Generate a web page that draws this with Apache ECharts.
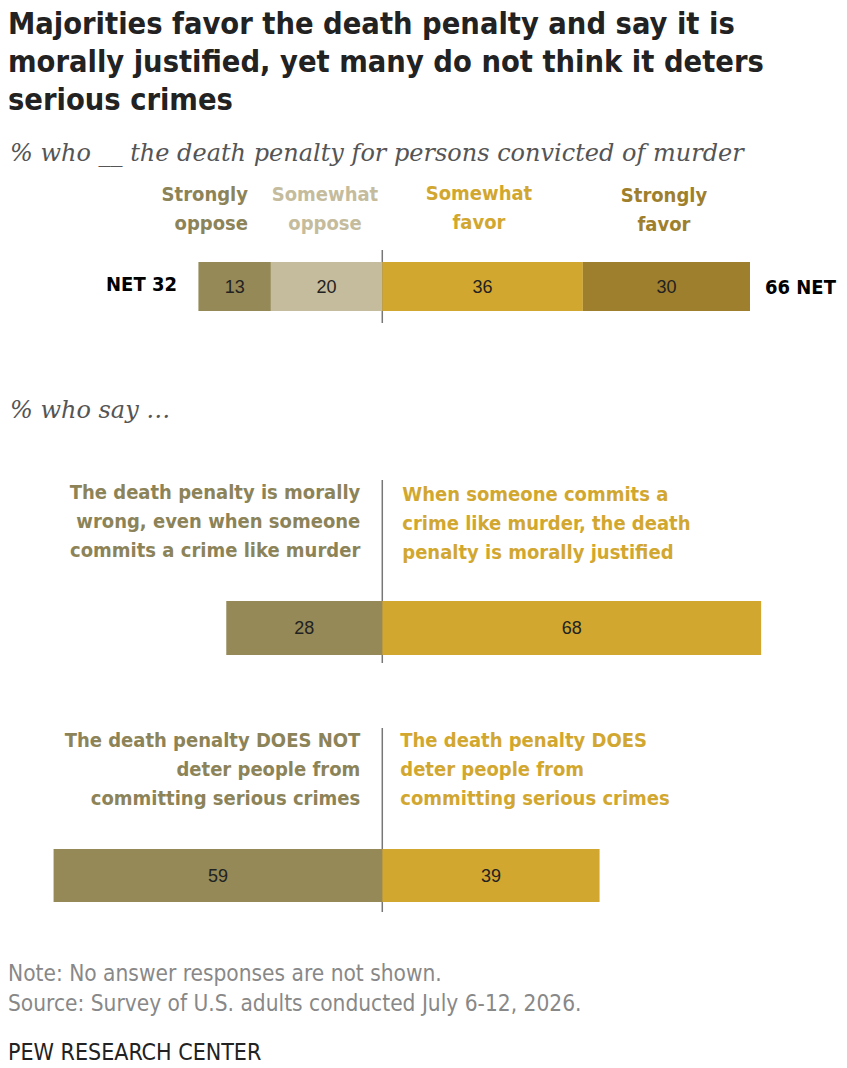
<!DOCTYPE html>
<html>
<head>
<meta charset="utf-8">
<script src="https://cdn.jsdelivr.net/npm/echarts@6/dist/echarts.min.js"></script>
<style>
  html, body { margin: 0; padding: 0; background: #fff; }
  #chart { width: 847px; height: 1068px; }
</style>
</head>
<body>
<div id="chart"></div>
<script>
// --- data ---
var scaleCats = ['Strongly oppose', 'Somewhat oppose', 'Somewhat favor', 'Strongly favor'];
var scaleValues = [13, 20, 36, 30];
var netOppose = 32;
var netFavor = 66;

var moralLabels = ['The death penalty is morally\nwrong, even when someone\ncommits a crime like murder',
                   'When someone commits a\ncrime like murder, the death\npenalty is morally justified'];
var moralValues = [28, 68];

var deterLabels = ['The death penalty DOES NOT\ndeter people from\ncommitting serious crimes',
                   'The death penalty DOES\ndeter people from\ncommitting serious crimes'];
var deterValues = [59, 39];

var cOpposeStrong = '#948957';
var cOpposeSome = '#c4bc9c';
var cFavorSome = '#d2a730';
var cFavorStrong = '#9e7f2e';

var narrow = '"Liberation Sans Narrow", "DejaVu Sans Condensed", sans-serif';
var plain = '"Liberation Sans", Arial, sans-serif';
var serif = '"DejaVu Serif", "Liberation Serif", serif';

var chart = echarts.init(document.getElementById('chart'), null, { renderer: 'svg' });

var barLabel = {
    show: true,
    position: 'inside',
    color: '#222',
    fontFamily: plain,
    fontSize: 18,
    formatter: function (p) { return Math.abs(p.value); }
};

function grid(top, h) {
    return { left: 48, width: 780, top: top, height: h, containLabel: false };
}
function xAx(i) {
    return { gridIndex: i, type: 'value', min: -60, max: 80, show: false };
}
function yAx(i) {
    return { gridIndex: i, type: 'category', data: ['a'], show: false };
}
function bar(i, name, val, color, stack) {
    return {
        type: 'bar', name: name, xAxisIndex: i, yAxisIndex: i, stack: stack,
        barWidth: '100%', data: [val], itemStyle: { color: color },
        label: barLabel, silent: true, animation: false
    };
}

var option = {
    animation: false,
    title: {
        text: 'Majorities favor the death penalty and say it is\nmorally justified, yet many do not think it deters\nserious crimes',
        left: 8, top: 4, padding: 0,
        textStyle: { fontFamily: narrow, fontWeight: 'bold', fontSize: 30.5, lineHeight: 38, color: '#222' }
    },
    grid: [grid(262, 49), grid(601, 54), grid(849, 53)],
    xAxis: [xAx(0), xAx(1), xAx(2)],
    yAxis: [yAx(0), yAx(1), yAx(2)],
    series: [
        bar(0, scaleCats[1], -scaleValues[1], cOpposeSome, 's0'),
        bar(0, scaleCats[0], -scaleValues[0], cOpposeStrong, 's0'),
        bar(0, scaleCats[2], scaleValues[2], cFavorSome, 's0'),
        bar(0, scaleCats[3], scaleValues[3], cFavorStrong, 's0'),
        bar(1, 'wrong', -moralValues[0], cOpposeStrong, 's1'),
        bar(1, 'justified', moralValues[1], cFavorSome, 's1'),
        bar(2, 'not deter', -deterValues[0], cOpposeStrong, 's2'),
        bar(2, 'deter', deterValues[1], cFavorSome, 's2')
    ]
};
chart.setOption(option);

// centre lines and text placed relative to the zero of the value axis
var x0 = chart.convertToPixel({ xAxisIndex: 0 }, 0);

function txt(x, y, s, o) {
    return {
        type: 'text', x: x, y: y, silent: true,
        style: Object.assign({ text: s, fontFamily: narrow, fontSize: 19, fontWeight: 'bold',
            textAlign: 'left', textVerticalAlign: 'middle', fill: '#222' }, o || {})
    };
}
function vline(y1, y2) {
    return { type: 'line', silent: true, shape: { x1: x0, y1: y1, x2: x0, y2: y2 },
        style: { stroke: '#777', lineWidth: 1.5 } };
}

var hdr = { fontSize: 20, lineHeight: 29, textVerticalAlign: 'top' };
var side = { fontSize: 20, lineHeight: 29, textVerticalAlign: 'top' };
var ital = { fontFamily: serif, fontStyle: 'italic', fontWeight: 'normal', fontSize: 24, fill: '#555' };

chart.setOption({
    graphic: [
        txt(10, 153, '% who __ the death penalty for persons convicted of murder', ital),
        txt(248, 179, 'Strongly\noppose', Object.assign({ textAlign: 'right', fill: '#8c8358' }, hdr)),
        txt(325, 179, 'Somewhat\noppose', Object.assign({ textAlign: 'center', fill: cOpposeSome }, hdr)),
        txt(479, 178, 'Somewhat\nfavor', Object.assign({ textAlign: 'center', fill: cFavorSome }, hdr)),
        txt(664, 180, 'Strongly\nfavor', Object.assign({ textAlign: 'center', fill: cFavorStrong }, hdr)),
        txt(177, 284, 'NET ' + netOppose, { textAlign: 'right', fill: '#000', fontSize: 20 }),
        txt(765, 287, netFavor + ' NET', { fill: '#000', fontSize: 20 }),
        vline(250, 323),

        txt(10, 410, '% who say \u2026', ital),
        txt(x0 - 22, 477, moralLabels[0], Object.assign({ textAlign: 'right', fill: '#8c8358' }, side)),
        txt(x0 + 20, 479, moralLabels[1], Object.assign({ fill: cFavorSome }, side)),
        vline(480, 663),

        txt(x0 - 22, 725, deterLabels[0], Object.assign({ textAlign: 'right', fill: '#8c8358' }, side)),
        txt(x0 + 18, 725, deterLabels[1], Object.assign({ fill: cFavorSome }, side)),
        vline(728, 912),

        txt(8, 973, 'Note: No answer responses are not shown.',
            { fontWeight: 'normal', fill: '#888', fontSize: 22.5 }),
        txt(8, 1003, 'Source: Survey of U.S. adults conducted July 6-12, 2026.',
            { fontWeight: 'normal', fill: '#888', fontSize: 22.5 }),
        txt(8, 1052, 'PEW RESEARCH CENTER',
            { fontWeight: 'normal', fill: '#222', fontSize: 23 })
    ]
});
</script>
</body>
</html>
